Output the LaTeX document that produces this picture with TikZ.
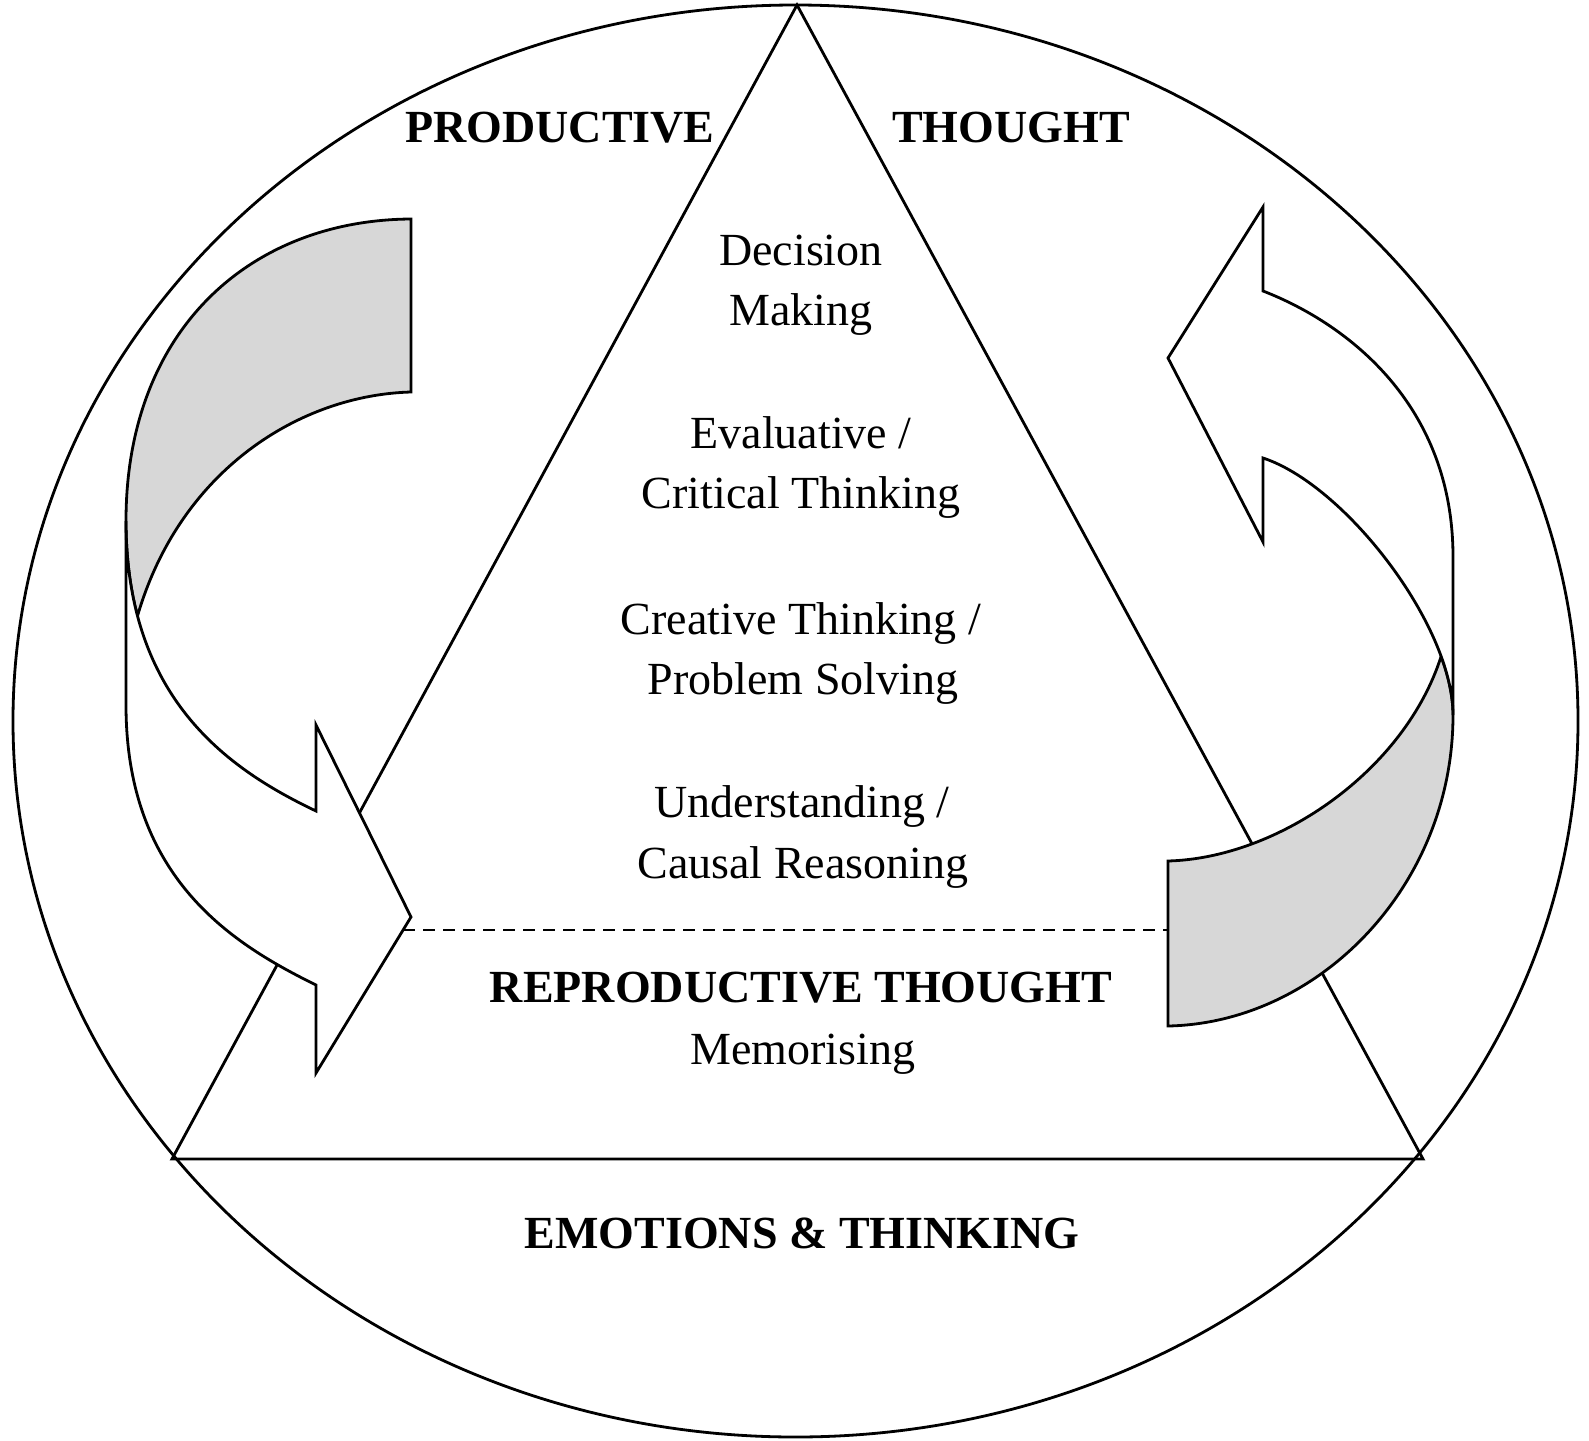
\documentclass[tikz,border=0pt]{standalone}
\usepackage{fontspec}
\setmainfont{Liberation Serif}
\definecolor{ribbongray}{RGB}{215,215,215}
\tikzset{
  outline/.style={draw=black, line width=1.4pt, line join=miter},
  backface/.style={outline, fill=ribbongray},
  frontface/.style={outline, fill=white},
  dashline/.style={draw=black, line width=1.1pt, dash pattern=on 6pt off 4pt},
  lbl/.style={anchor=base, inner sep=0pt, font=\fontsize{23}{30}\selectfont},
  heading/.style={anchor=base, inner sep=0pt, font=\fontsize{23}{30}\selectfont\bfseries},
}
\begin{document}
\begin{tikzpicture}[x=0.5pt, y=-0.5pt]
\useasboundingbox (0,0) rectangle (1589,1440);

% outer ellipse
\draw[outline] (795.5,721) ellipse [x radius=391.25pt, y radius=358pt];

% triangle
\coordinate (apex) at (797,5);
\coordinate (bl) at (172,1159);
\coordinate (br) at (1423,1159);
\draw[outline] (apex) -- (bl) -- (br) -- cycle;

% dashed divider
\coordinate (dashL) at (403,930);
\coordinate (dashR) at (1168,930);
\draw[dashline] (dashL) -- (dashR);

% texts
\node[heading] (prod) at (560,142) {PRODUCTIVE};
\node[heading] (thought) at (1011,142) {THOUGHT};
\node[lbl] (dec1) at (801,265) {Decision};
\node[lbl] (dec2) at (801,325) {Making};
\node[lbl] (eval1) at (801,448) {Evaluative /};
\node[lbl] (eval2) at (801,508) {Critical Thinking};
\node[lbl] (crea1) at (801,634) {Creative Thinking /};
\node[lbl] (crea2) at (803,694) {Problem Solving};
\node[lbl] (und1) at (802,817) {Understanding /};
\node[lbl] (und2) at (803,878) {Causal Reasoning};
\node[heading] (repro) at (801,1002) {REPRODUCTIVE THOUGHT};
\node[lbl] (memo) at (803,1064) {Memorising};
\node[heading] (emo) at (802,1248) {EMOTIONS \& THINKING};

% left ribbon arrow
\coordinate (LA) at (411,219);
\coordinate (LL) at (126,521);
\coordinate (LV) at (126,705);
\coordinate (LE) at (316,985);
\coordinate (LN2) at (316,1073);
\coordinate (LT) at (411,917);
\coordinate (LN1) at (316,725);
\coordinate (LP) at (316,811);
\coordinate (LS) at (137.5,615.96);
\coordinate (LD) at (411,392);
\path[backface] (LA) .. controls (250,220) and (126,330) .. (LL)
  .. controls (126,556.8) and (130.16,588.24) .. (LS)
  .. controls (180,470) and (300,395) .. (LD) -- cycle;
\path[frontface] (LL) -- (LV) .. controls (126,880) and (235,945) .. (LE)
  -- (LN2) -- (LT) -- (LN1) -- (LP)
  .. controls (247.2,778.2) and (166.88,726.84) .. (LS)
  .. controls (130.16,588.24) and (126,556.8) .. cycle;

% right ribbon arrow
\coordinate (RA) at (1168,1026);
\coordinate (RL) at (1453,715);
\coordinate (RV) at (1453,557);
\coordinate (RE) at (1263,291);
\coordinate (RN1) at (1263,207);
\coordinate (RT) at (1168,358);
\coordinate (RN2) at (1263,542);
\coordinate (RP) at (1263,458);
\coordinate (RS) at (1441.11,656.30);
\coordinate (RD) at (1168,861);
\path[backface] (RA) .. controls (1319,1023) and (1453,886) .. (RL)
  .. controls (1453,697) and (1448.68,677) .. (RS)
  .. controls (1405,770) and (1279,858) .. (RD) -- cycle;
\path[frontface] (RV) -- (RL) .. controls (1453,697) and (1448.68,677) .. (RS)
  .. controls (1410.84,573.52) and (1328.6,479.6) .. (RP)
  -- (RN2) -- (RT) -- (RN1) -- (RE)
  .. controls (1348,324) and (1453,405) .. cycle;
\end{tikzpicture}
\end{document}
